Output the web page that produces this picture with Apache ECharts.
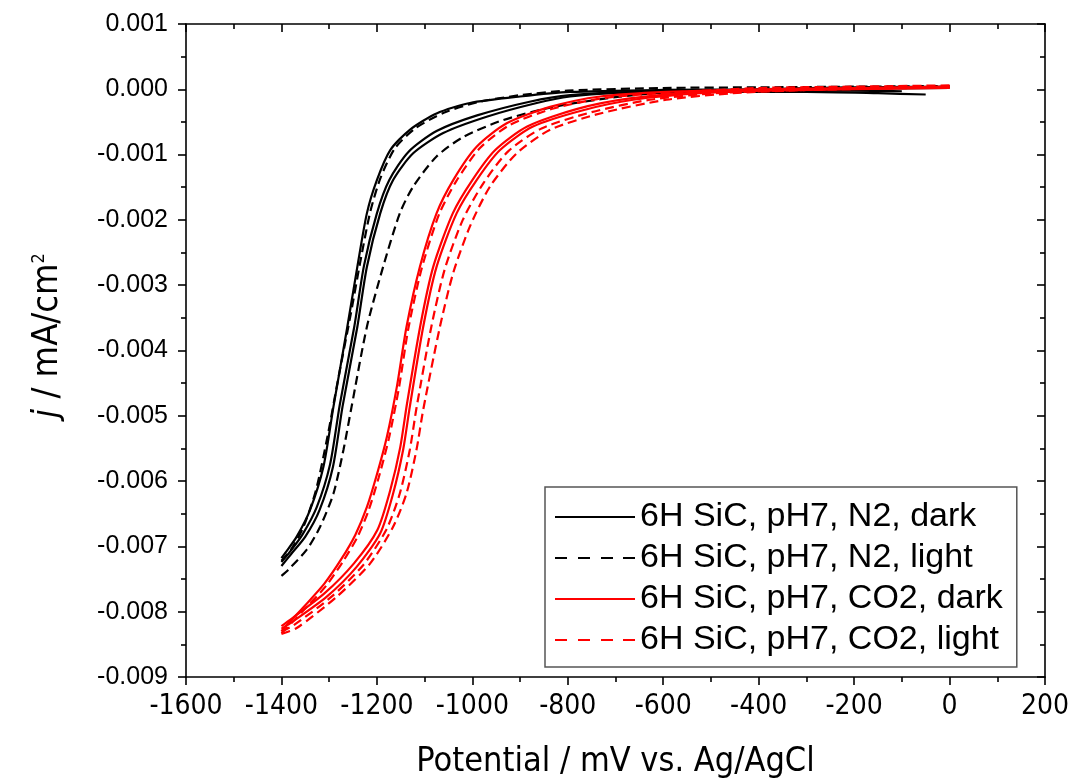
<!DOCTYPE html>
<html>
<head>
<meta charset="utf-8">
<script src="https://cdn.jsdelivr.net/npm/echarts@6/dist/echarts.min.js"></script>
<style>
html,body{margin:0;padding:0;background:#fff;}
#chart{width:1068px;height:782px;}
</style>
</head>
<body>
<div id="chart"></div>
<script>
// Axis ticks
const xTicks = { min: -1600, max: 200, interval: 200 };
const yTicks = { min: -0.009, max: 0.001, interval: 0.001 };

// Legend / condition names
const conditions = [
  '6H SiC, pH7, N2, dark',
  '6H SiC, pH7, N2, light',
  '6H SiC, pH7, CO2, dark',
  '6H SiC, pH7, CO2, light'
];

// Curves: [potential (mV), j (mA/cm2)]
const n2Dark1 = [[-1400,-0.00718],[-1392,-0.00710],[-1368,-0.00685],[-1340,-0.00644],[-1312,-0.00578],[-1291,-0.00486],[-1262,-0.00364],[-1241,-0.00272],[-1221,-0.00190],[-1200,-0.00139],[-1172,-0.00093],[-1131,-0.00062],[-1075,-0.00037],[-1005,-0.00021],[-900,-0.00011],[-795,-0.00004],[-600,-0.00001],[-400,0.00000],[-200,0.00001],[0,0.00002]];
const n2Dark2 = [[-1400,-0.00730],[-1380,-0.00712],[-1350,-0.00685],[-1320,-0.00644],[-1292,-0.00578],[-1272,-0.00486],[-1241,-0.00364],[-1221,-0.00272],[-1193,-0.00190],[-1166,-0.00139],[-1124,-0.00098],[-1061,-0.00067],[-970,-0.00042],[-865,-0.00021],[-795,-0.00011],[-700,-0.00006],[-500,-0.00004],[-300,-0.00004],[-150,-0.00006],[-50,-0.00008]];
const n2Dark3 = [[-1400,-0.00724],[-1384,-0.00710],[-1356,-0.00682],[-1326,-0.00640],[-1298,-0.00574],[-1278,-0.00484],[-1247,-0.00362],[-1227,-0.00270],[-1200,-0.00190],[-1174,-0.00139],[-1134,-0.00096],[-1075,-0.00064],[-990,-0.00040],[-880,-0.00019],[-795,-0.00009],[-650,-0.00004],[-400,-0.00002],[-200,-0.00002],[-100,-0.00003]];
const n2Light1 = [[-1400,-0.00722],[-1380,-0.00705],[-1355,-0.00672],[-1328,-0.00615],[-1303,-0.00530],[-1282,-0.00447],[-1255,-0.00345],[-1235,-0.00265],[-1214,-0.00188],[-1192,-0.00135],[-1162,-0.00090],[-1120,-0.00060],[-1060,-0.00036],[-990,-0.00020],[-900,-0.00009],[-800,-0.00002],[-600,0.00002],[-400,0.00003],[-200,0.00004],[0,0.00005]];
const n2Light2 = [[-1400,-0.00745],[-1386,-0.00736],[-1347,-0.00705],[-1319,-0.00670],[-1291,-0.00619],[-1270,-0.00552],[-1253,-0.00486],[-1221,-0.00364],[-1187,-0.00272],[-1152,-0.00190],[-1124,-0.00149],[-1075,-0.00103],[-1019,-0.00073],[-935,-0.00047],[-830,-0.00027],[-700,-0.00012],[-600,-0.00005],[-400,0.00000],[-200,0.00003],[0,0.00004]];
const co2Dark1 = [[-1400,-0.00830],[-1392,-0.00823],[-1350,-0.00790],[-1310,-0.00757],[-1275,-0.00720],[-1245,-0.00682],[-1221,-0.00640],[-1200,-0.00590],[-1179,-0.00532],[-1158,-0.00455],[-1138,-0.00364],[-1110,-0.00272],[-1075,-0.00190],[-1040,-0.00139],[-991,-0.00088],[-928,-0.00052],[-837,-0.00027],[-732,-0.00011],[-593,-0.00004],[-400,0.00000],[-200,0.00002],[0,0.00004]];
const co2Dark2 = [[-1400,-0.00826],[-1382,-0.00818],[-1305,-0.00777],[-1242,-0.00731],[-1193,-0.00680],[-1166,-0.00619],[-1145,-0.00552],[-1131,-0.00486],[-1103,-0.00364],[-1075,-0.00272],[-1033,-0.00190],[-991,-0.00139],[-942,-0.00093],[-873,-0.00057],[-768,-0.00032],[-663,-0.00016],[-523,-0.00006],[-400,-0.00002],[-200,0.00001],[0,0.00003]];
const co2Dark3 = [[-1400,-0.00822],[-1385,-0.00814],[-1310,-0.00772],[-1248,-0.00726],[-1199,-0.00675],[-1172,-0.00614],[-1151,-0.00548],[-1137,-0.00482],[-1109,-0.00362],[-1082,-0.00272],[-1041,-0.00190],[-1000,-0.00139],[-952,-0.00093],[-885,-0.00057],[-780,-0.00030],[-670,-0.00014],[-530,-0.00005],[-300,-0.00001],[0,0.00002]];
const co2Light1 = [[-1400,-0.00833],[-1390,-0.00826],[-1346,-0.00792],[-1306,-0.00760],[-1271,-0.00723],[-1241,-0.00686],[-1217,-0.00644],[-1196,-0.00594],[-1175,-0.00535],[-1154,-0.00458],[-1134,-0.00366],[-1106,-0.00274],[-1070,-0.00192],[-1034,-0.00141],[-984,-0.00090],[-920,-0.00054],[-828,-0.00029],[-720,-0.00013],[-580,-0.00005],[-400,0.00002],[-200,0.00004],[0,0.00006]];
const co2Light2 = [[-1400,-0.00834],[-1368,-0.00825],[-1284,-0.00777],[-1214,-0.00726],[-1166,-0.00670],[-1138,-0.00619],[-1117,-0.00552],[-1103,-0.00491],[-1068,-0.00364],[-1040,-0.00281],[-1005,-0.00210],[-963,-0.00149],[-907,-0.00098],[-837,-0.00062],[-732,-0.00037],[-593,-0.00016],[-454,-0.00006],[-300,-0.00001],[-150,0.00002],[0,0.00004]];
const co2Light3 = [[-1400,-0.00830],[-1375,-0.00821],[-1295,-0.00777],[-1228,-0.00728],[-1180,-0.00674],[-1152,-0.00619],[-1131,-0.00552],[-1117,-0.00488],[-1086,-0.00364],[-1058,-0.00276],[-1020,-0.00200],[-977,-0.00144],[-925,-0.00095],[-855,-0.00060],[-750,-0.00035],[-628,-0.00016],[-490,-0.00006],[-300,-0.00001],[0,0.00003]];

const solidIcon = 'path://M0,0H80V2H0Z';
const dashedIcon = 'path://M0,0H12V2H0Z M23,0H35V2H23Z M46,0H58V2H46Z M68,0H80V2H68Z';

const groups = [
  { name: conditions[0], color: '#000000', dash: 'solid', icon: solidIcon, curves: [n2Dark1, n2Dark2, n2Dark3] },
  { name: conditions[1], color: '#000000', dash: [9, 5], icon: dashedIcon, curves: [n2Light1, n2Light2] },
  { name: conditions[2], color: '#ff0000', dash: 'solid', icon: solidIcon, curves: [co2Dark1, co2Dark2, co2Dark3] },
  { name: conditions[3], color: '#ff0000', dash: [9, 5], icon: dashedIcon, curves: [co2Light1, co2Light2, co2Light3] }
];

const series = [];
groups.forEach(g => {
  g.curves.forEach(c => {
    series.push({
      name: g.name,
      type: 'line',
      data: c,
      showSymbol: false,
      symbol: 'none',
      smooth: 0.25,
      lineStyle: { color: g.color, width: 2.2, type: g.dash },
      itemStyle: { color: g.color },
      emphasis: { disabled: true },
      animation: false
    });
  });
});

const axisLine = { show: true, onZero: false, lineStyle: { color: '#000', width: 1.6 } };
const narrow = "'Liberation Sans Narrow', 'DejaVu Sans Condensed', 'Liberation Sans', Arial, sans-serif";
const sans = "'Liberation Sans', Arial, sans-serif";

const chart = echarts.init(document.getElementById('chart'), null, { renderer: 'canvas' });
chart.setOption({
  backgroundColor: '#ffffff',
  animation: false,
  grid: { left: 186, right: 23, top: 24, bottom: 105, containLabel: false, outerBoundsMode: 'none' },
  legend: {
    data: groups.map(g => ({ name: g.name, icon: g.icon, itemStyle: { color: g.color, borderWidth: 0 } })),
    orient: 'vertical',
    left: 545,
    top: 487,
    padding: [13, 14, 10, 10],
    itemWidth: 80,
    itemHeight: 2,
    itemGap: 7,
    backgroundColor: '#ffffff',
    borderColor: '#555555',
    borderWidth: 1.5,
    selectedMode: false,
    itemStyle: { borderWidth: 0 },
    lineStyle: { width: 0 },
    textStyle: { fontFamily: sans, fontSize: 34, color: '#000', lineHeight: 33 }
  },
  xAxis: [
    {
      type: 'value', position: 'bottom',
      min: xTicks.min, max: xTicks.max, interval: xTicks.interval,
      axisLine: axisLine,
      axisTick: { show: true, inside: false, length: 8, lineStyle: { color: '#000', width: 1.6 } },
      minorTick: { show: true, splitNumber: 2, length: 5, lineStyle: { color: '#000', width: 1.6 } },
      splitLine: { show: false },
      axisLabel: { color: '#000', fontFamily: narrow, fontSize: 28, margin: 16, formatter: v => String(Math.round(v)) },
      name: 'Potential / mV vs. Ag/AgCl',
      nameLocation: 'middle',
      nameGap: 68,
      nameTextStyle: { color: '#000', fontFamily: narrow, fontSize: 34 }
    },
    {
      type: 'value', position: 'top',
      min: xTicks.min, max: xTicks.max, interval: xTicks.interval,
      axisLine: axisLine,
      axisTick: { show: true, inside: true, length: 8, lineStyle: { color: '#000', width: 1.6 } },
      minorTick: { show: true, splitNumber: 2, length: 5, lineStyle: { color: '#000', width: 1.6 } },
      splitLine: { show: false },
      axisLabel: { show: false }
    }
  ],
  yAxis: [
    {
      type: 'value', position: 'left',
      min: yTicks.min, max: yTicks.max, interval: yTicks.interval,
      axisLine: axisLine,
      axisTick: { show: true, inside: false, length: 8, lineStyle: { color: '#000', width: 1.6 } },
      minorTick: { show: true, splitNumber: 2, length: 5, lineStyle: { color: '#000', width: 1.6 } },
      splitLine: { show: false },
      axisLabel: {
        color: '#000', fontFamily: sans, fontSize: 25, margin: 18,
        formatter: v => { const s = (Math.round(v * 1e6) / 1e6).toFixed(3); return s === '-0.000' ? '0.000' : s; }
      },
      name: '{i|j} / mA/cm{s|2}',
      nameLocation: 'middle',
      nameGap: 120,
      nameRotate: 90,
      nameTextStyle: {
        color: '#000', fontFamily: narrow, fontSize: 36, padding: [0, 0, 0, 30],
        rich: {
          i: { fontFamily: narrow, fontSize: 36, fontStyle: 'italic', color: '#000' },
          s: { fontFamily: narrow, fontSize: 18, verticalAlign: 'top', padding: [0, 0, 18, 0], color: '#000' }
        }
      }
    },
    {
      type: 'value', position: 'right',
      min: yTicks.min, max: yTicks.max, interval: yTicks.interval,
      axisLine: axisLine,
      axisTick: { show: true, inside: true, length: 8, lineStyle: { color: '#000', width: 1.6 } },
      minorTick: { show: true, splitNumber: 2, length: 5, lineStyle: { color: '#000', width: 1.6 } },
      splitLine: { show: false },
      axisLabel: { show: false }
    }
  ],
  series: series
});
</script>
</body>
</html>
